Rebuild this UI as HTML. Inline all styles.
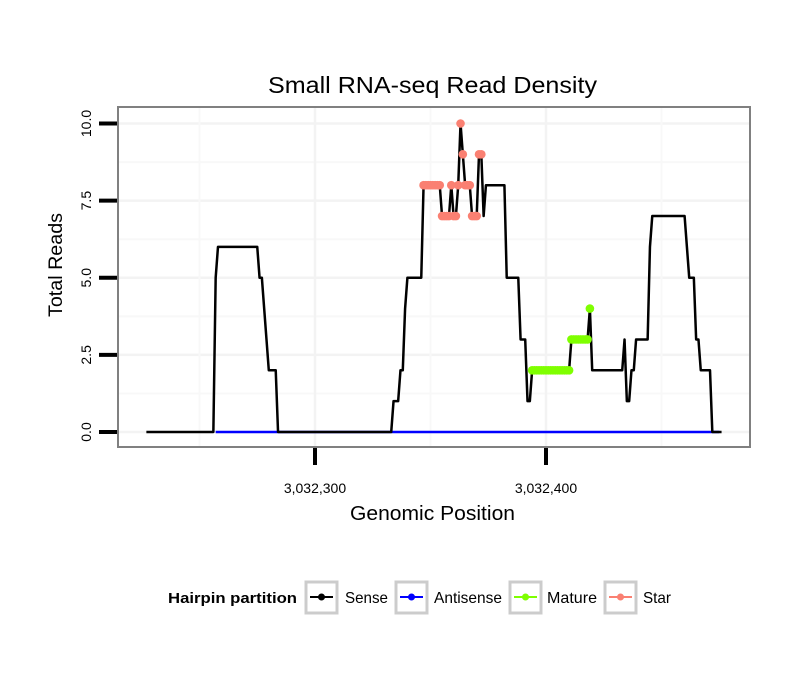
<!DOCTYPE html>
<html><head><meta charset="utf-8"><style>
body{margin:0;background:#fff;}
svg{display:block;font-family:"Liberation Sans",sans-serif;}
</style></head><body>
<svg id="chart" width="810" height="690">
<rect width="810" height="690" fill="#fff"/>
<text x="268" y="93" font-size="23" textLength="329" lengthAdjust="spacingAndGlyphs">Small RNA-seq Read Density</text>
<g id="grid"></g>
<g id="plot"></g>
<rect x="118" y="107" width="632" height="340" fill="none" stroke="#808080" stroke-width="2"/>
<g id="axes"></g>
<text x="350" y="520" font-size="20" textLength="165" lengthAdjust="spacingAndGlyphs">Genomic Position</text>
<text transform="translate(62,317) rotate(-90)" font-size="19" textLength="104" lengthAdjust="spacingAndGlyphs">Total Reads</text>
<g>
<text x="168" y="603" font-size="15" font-weight="bold" textLength="129" lengthAdjust="spacingAndGlyphs">Hairpin partition</text>
<g><rect x="306" y="582" width="31" height="31" fill="#fff" stroke="#ccc" stroke-width="3"/><line x1="310" y1="597" x2="333" y2="597" stroke="#000" stroke-width="2"/><circle cx="321.5" cy="597" r="3.5" fill="#000"/><text x="345" y="603" font-size="16" textLength="43" lengthAdjust="spacingAndGlyphs">Sense</text></g>
<g><rect x="396" y="582" width="31" height="31" fill="#fff" stroke="#ccc" stroke-width="3"/><line x1="400" y1="597" x2="423" y2="597" stroke="#0000ff" stroke-width="2"/><circle cx="411.5" cy="597" r="3.5" fill="#0000ff"/><text x="434" y="603" font-size="16" textLength="68" lengthAdjust="spacingAndGlyphs">Antisense</text></g>
<g><rect x="510" y="582" width="31" height="31" fill="#fff" stroke="#ccc" stroke-width="3"/><line x1="514" y1="597" x2="537" y2="597" stroke="#7fff00" stroke-width="2"/><circle cx="525.5" cy="597" r="3.5" fill="#7fff00"/><text x="547" y="603" font-size="16" textLength="50" lengthAdjust="spacingAndGlyphs">Mature</text></g>
<g><rect x="605" y="582" width="31" height="31" fill="#fff" stroke="#ccc" stroke-width="3"/><line x1="609" y1="597" x2="632" y2="597" stroke="#fa8072" stroke-width="2"/><circle cx="620.5" cy="597" r="3.5" fill="#fa8072"/><text x="643" y="603" font-size="16" textLength="28" lengthAdjust="spacingAndGlyphs">Star</text></g>
</g>
</svg>
<script>
const startPos = 3032227;
const senseValues = [
0,0,0,0,0,0,0,0,0,0,0,0,0,0,0,0,0,0,0,0,0,0,0,0,0,0,0,0,0,0,
5,6,6,6,6,6,6,6,6,6,6,6,6,6,6,6,6,6,6,5,5,4,3,2,2,2,2,0,
0,0,0,0,0,0,0,0,0,0,0,0,0,0,0,0,0,0,0,0,0,0,0,0,0,0,0,0,0,0,0,0,0,0,0,0,0,0,0,0,0,0,0,0,0,0,0,0,0,
1,1,1,2,2,4,5,5,5,5,5,5,5,
8,8,8,8,8,8,8,8,7,7,7,7,8,7,7,8,10,9,8,8,8,7,7,7,9,9,7,
8,8,8,8,8,8,8,8,8,5,5,5,5,5,5,3,3,3,1,1,
2,2,2,2,2,2,2,2,2,2,2,2,2,2,2,2,2,3,3,3,3,3,3,3,3,4,
2,2,2,2,2,2,2,2,2,2,2,2,2,2,3,1,1,2,2,3,3,3,3,3,3,6,
7,7,7,7,7,7,7,7,7,7,7,7,7,7,7,6,5,5,5,3,3,2,2,2,2,2,0,0,0,0,0];
const antisenseStart = 3032257;
const antisenseEnd = 3032475;
const antisenseValue = 0;
const starStart = 3032347, starEnd = 3032372;
const matureStart = 3032394, matureEnd = 3032419;
const xTicks = [3032300, 3032400];
const xTickLabels = ["3,032,300", "3,032,400"];
const xMinorGrid = [3032250, 3032350, 3032450];
const yTicks = [0, 2.5, 5, 7.5, 10];
const yTickLabels = ["0.0", "2.5", "5.0", "7.5", "10.0"];

const NS = "http://www.w3.org/2000/svg";
function X(p){return 315 + (p - 3032300) * 2.31;}
function Y(v){return 432 - v * 30.85;}
function mk(tag, attrs, parent){const e=document.createElementNS(NS,tag);for(const k in attrs)e.setAttribute(k,attrs[k]);parent.appendChild(e);return e;}
const grid=document.getElementById('grid'), plot=document.getElementById('plot'), axes=document.getElementById('axes');
yTicks.forEach((v,i)=>{
  const l=mk('line',{x1:119,x2:749,y1:Y(v),y2:Y(v),stroke:'#f3f3f3','stroke-width':2.5},grid);
  
  
  if(i<yTicks.length-1){const m=mk('line',{x1:119,x2:749,y1:Y(v+1.25),y2:Y(v+1.25),stroke:'#f8f8f8','stroke-width':2},grid);
  
  }
  const t=mk('line',{x1:99,x2:117,y1:Y(v),y2:Y(v),stroke:'#000','stroke-width':4},axes);
  
  
  const tx=mk('text',{transform:`translate(91,${Y(v)}) rotate(-90)`,'font-size':14,'text-anchor':'middle'},axes);
  tx.textContent=yTickLabels[i];
  
  
});
xMinorGrid.forEach(p=>{const l=mk('line',{x1:X(p),x2:X(p),y1:108,y2:446,stroke:'#f8f8f8','stroke-width':2},grid);
  
  });
xTicks.forEach((p,i)=>{
  const l=mk('line',{x1:X(p),x2:X(p),y1:108,y2:446,stroke:'#f3f3f3','stroke-width':2.5},grid);
  
  
  const t=mk('line',{x1:X(p),x2:X(p),y1:448,y2:465,stroke:'#000','stroke-width':4},axes);
  
  
  const tx=mk('text',{x:X(p),y:493,'font-size':14,'text-anchor':'middle'},axes);
  tx.textContent=xTickLabels[i];
  
  
});
const anti=mk('line',{x1:X(antisenseStart),x2:X(antisenseEnd),y1:Y(antisenseValue),y2:Y(antisenseValue),stroke:'#0000ff','stroke-width':2.5},plot);


let d='';
senseValues.forEach((v,i)=>{d+=(i?'L':'M')+X(startPos+i).toFixed(2)+','+Y(v).toFixed(2);});
const sl=mk('path',{d:d,fill:'none',stroke:'#000','stroke-width':2.5,'stroke-linejoin':'round'},plot);


senseValues.forEach((v,i)=>{
  const p=startPos+i;
  let col=null,name=null;
  if(p>=starStart&&p<=starEnd){col='#fa8072';name='star-point';}
  else if(p>=matureStart&&p<=matureEnd){col='#7fff00';name='mature-point';}
  if(col){const c=mk('circle',{cx:X(p),cy:Y(v),r:4.3,fill:col},plot);
    
    }
});
</script>
</body></html>
